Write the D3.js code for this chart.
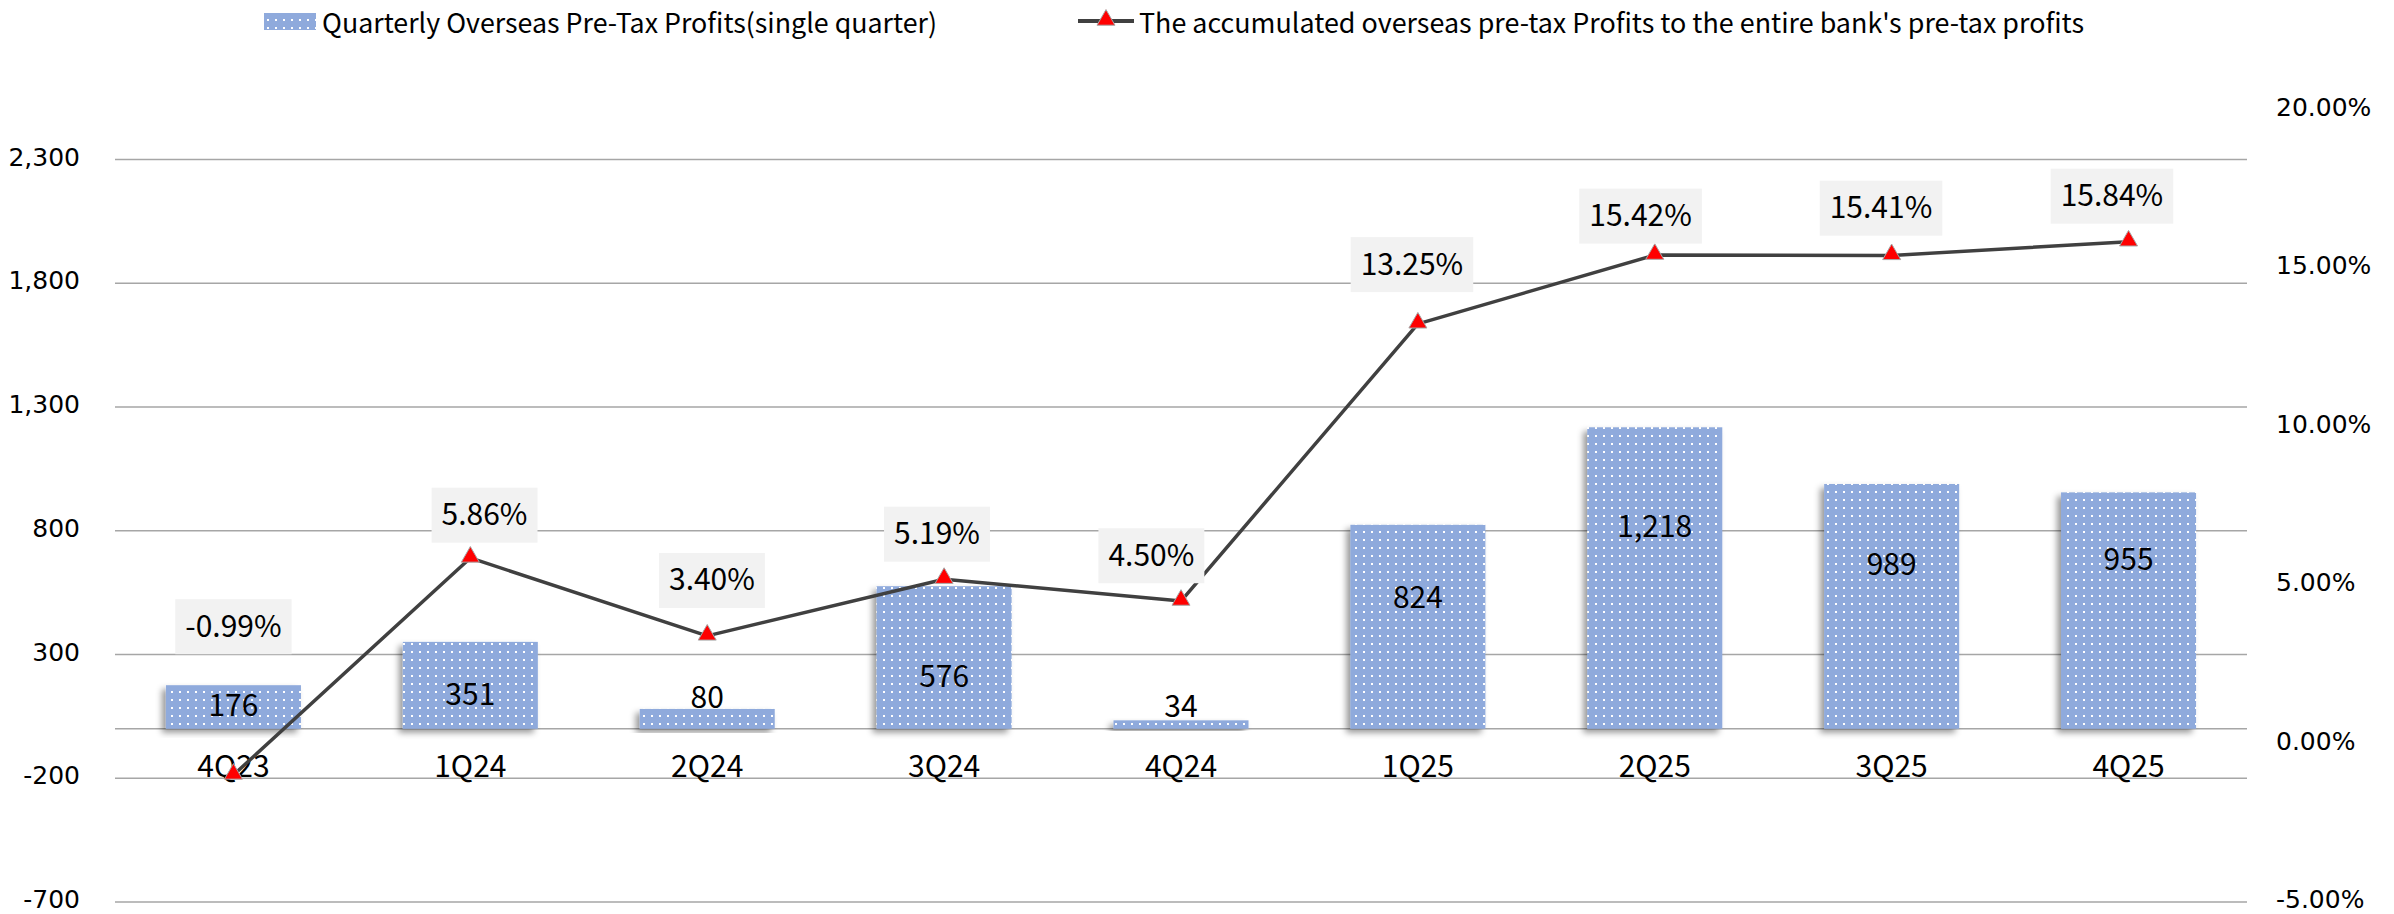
<!DOCTYPE html>
<html>
<head>
<meta charset="utf-8">
<script src="https://cdn.jsdelivr.net/npm/d3@7"></script>
<style>
  html, body { margin: 0; padding: 0; background: #fff; }
  svg { display: block; }
</style>
</head>
<body>
<svg id="chart" width="2394" height="914"></svg>
<script>
// ---------------- data ----------------
const categories = ["4Q23", "1Q24", "2Q24", "3Q24", "4Q24", "1Q25", "2Q25", "3Q25", "4Q25"];
const profits = [176, 351, 80, 576, 34, 824, 1218, 989, 955];
const ratios = [-0.99, 5.86, 3.40, 5.19, 4.50, 13.25, 15.42, 15.41, 15.84];
const leftTicks = [-700, -200, 300, 800, 1300, 1800, 2300];
const rightTicks = [-5, 0, 5, 10, 15, 20];
const seriesNames = [
  "Quarterly Overseas Pre-Tax Profits(single quarter)",
  "The accumulated overseas pre-tax Profits to the entire bank's pre-tax profits"
];
// manually placed data-label anchors (in axis units), as in the source chart
const barLabelAt = [93, 137, 125, 210, 89, 529, 816, 663, 683];
const ratioLabelAt = [3.69, 7.21, 5.15, 6.61, 5.93, 15.12, 16.65, 16.90, 17.28];
const ratioLabelShift = [0, 0.06, 0.02, -0.03, -0.125, -0.025, -0.06, -0.045, -0.07];

// ---------------- layout ----------------
const plot = { left: 115, right: 2247, top: 110, bottom: 902 };
const FONT = "'Noto Sans CJK TC', 'Noto Sans', sans-serif";
const AXFONT = "'DejaVu Sans', sans-serif";
const BAR = "#8FAADC", LINE = "#404040", GRID = "#A6A6A6";

const loc = d3.formatLocale({ decimal: ".", thousands: ",", grouping: [3], currency: ["", ""], minus: "-" });
const fmtInt = loc.format(",");
const fmtPct = v => loc.format(".2f")(v) + "%";

const svg = d3.select("#chart");
const defs = svg.append("defs");

const pat = defs.append("pattern").attr("id", "dots")
  .attr("patternUnits", "userSpaceOnUse").attr("width", 8).attr("height", 8);
pat.append("rect").attr("width", 8).attr("height", 8).attr("fill", BAR);
pat.append("rect").attr("x", 3).attr("y", 3).attr("width", 2).attr("height", 2).attr("fill", "#fff");

const f = defs.append("filter").attr("id", "shadow")
  .attr("x", "-20%").attr("y", "-20%").attr("width", "140%").attr("height", "140%");
f.append("feDropShadow").attr("dx", -4).attr("dy", 4).attr("stdDeviation", 3)
  .attr("flood-color", "#000").attr("flood-opacity", 0.4);

const x = d3.scaleBand().domain(categories).range([plot.left, plot.right])
  .paddingInner(0.43).paddingOuter(0.215);
const yL = d3.scaleLinear().domain([-700, 2500]).range([plot.bottom, plot.top]);
const yR = d3.scaleLinear().domain([-5, 20]).range([plot.bottom, plot.top]);
const cx = d => x(d) + x.bandwidth() / 2;

// gridlines
svg.append("g").selectAll("line").data(leftTicks.concat([0])).join("line")
  .attr("x1", plot.left).attr("x2", plot.right)
  .attr("y1", d => yL(d)).attr("y2", d => yL(d))
  .attr("stroke", GRID).attr("stroke-width", 1.6);

// left axis
const axL = d3.axisLeft(yL).tickValues(leftTicks).tickFormat(fmtInt).tickSize(0).tickPadding(35);
const gL = svg.append("g").attr("transform", `translate(${plot.left},0)`).call(axL);
gL.select(".domain").remove();
gL.selectAll("text").attr("font-family", AXFONT).attr("font-size", 25).attr("dy", "0.22em").attr("fill", "#000");

// right axis
const axR = d3.axisRight(yR).tickValues(rightTicks).tickFormat(fmtPct).tickSize(0).tickPadding(29);
const gR = svg.append("g").attr("transform", `translate(${plot.right},0)`).call(axR);
gR.select(".domain").remove();
gR.selectAll("text").attr("font-family", AXFONT).attr("font-size", 25).attr("dy", "0.22em").attr("fill", "#000");

// bars
svg.append("g").selectAll("rect").data(profits).join("rect")
  .attr("x", (d, i) => x(categories[i]))
  .attr("width", x.bandwidth())
  .attr("y", d => yL(Math.max(0, d)))
  .attr("height", d => Math.abs(yL(d) - yL(0)))
  .attr("fill", "url(#dots)")
  .attr("filter", "url(#shadow)");

// category labels
svg.append("g").selectAll("text").data(categories).join("text")
  .attr("x", d => cx(d)).attr("y", yL(0) + 48)
  .attr("text-anchor", "middle").attr("font-family", FONT).attr("font-size", 30).attr("fill", "#000")
  .text(d => d);

// bar value labels
svg.append("g").selectAll("text").data(profits).join("text")
  .attr("x", (d, i) => cx(categories[i]))
  .attr("y", (d, i) => yL(barLabelAt[i]) + 10)
  .attr("text-anchor", "middle").attr("font-family", FONT).attr("font-size", 30).attr("fill", "#000")
  .text(d => fmtInt(d));

// line
const line = d3.line().x((d, i) => cx(categories[i])).y(d => yR(d));
svg.append("path").datum(ratios).attr("d", line)
  .attr("fill", "none").attr("stroke", LINE).attr("stroke-width", 3.5).attr("stroke-linejoin", "round");

// markers
const tri = d3.symbol(d3.symbolTriangle, 140);
svg.append("g").selectAll("path").data(ratios).join("path")
  .attr("d", tri)
  .attr("transform", (d, i) => `translate(${cx(categories[i])},${yR(d) - 1})`)
  .attr("fill", "#FF0000").attr("stroke", "#A6A6A6").attr("stroke-width", 1);

// ratio labels with grey boxes
const lg = svg.append("g");
ratios.forEach((v, i) => {
  const g = lg.append("g");
  const tx = cx(categories[i]) + ratioLabelShift[i] * x.step();
  const ty = yR(ratioLabelAt[i]);
  const t = g.append("text").attr("x", tx).attr("y", ty + 10)
    .attr("text-anchor", "middle").attr("font-family", FONT).attr("font-size", 30).attr("fill", "#000")
    .text(fmtPct(v));
  const w = t.node().getComputedTextLength() + 20;
  g.insert("rect", "text").attr("x", tx - w / 2).attr("y", ty - 27.5)
    .attr("width", w).attr("height", 55).attr("fill", "#F2F2F2");
});

// legend
const leg = svg.append("g");
leg.append("rect").attr("x", 264).attr("y", 13).attr("width", 52).attr("height", 17).attr("fill", "url(#dots)");
leg.append("text").attr("x", 322).attr("y", 33)
  .attr("font-family", FONT).attr("font-size", 27).attr("fill", "#000")
  .attr("textLength", 615).attr("lengthAdjust", "spacingAndGlyphs")
  .text(seriesNames[0]);
leg.append("line").attr("x1", 1078).attr("x2", 1134).attr("y1", 21).attr("y2", 21)
  .attr("stroke", LINE).attr("stroke-width", 4);
leg.append("path").attr("d", tri).attr("transform", "translate(1106,20)")
  .attr("fill", "#FF0000").attr("stroke", "#A6A6A6").attr("stroke-width", 1);
leg.append("text").attr("x", 1139).attr("y", 33)
  .attr("font-family", FONT).attr("font-size", 27).attr("fill", "#000")
  .attr("textLength", 945).attr("lengthAdjust", "spacingAndGlyphs")
  .text(seriesNames[1]);
</script>
</body>
</html>
